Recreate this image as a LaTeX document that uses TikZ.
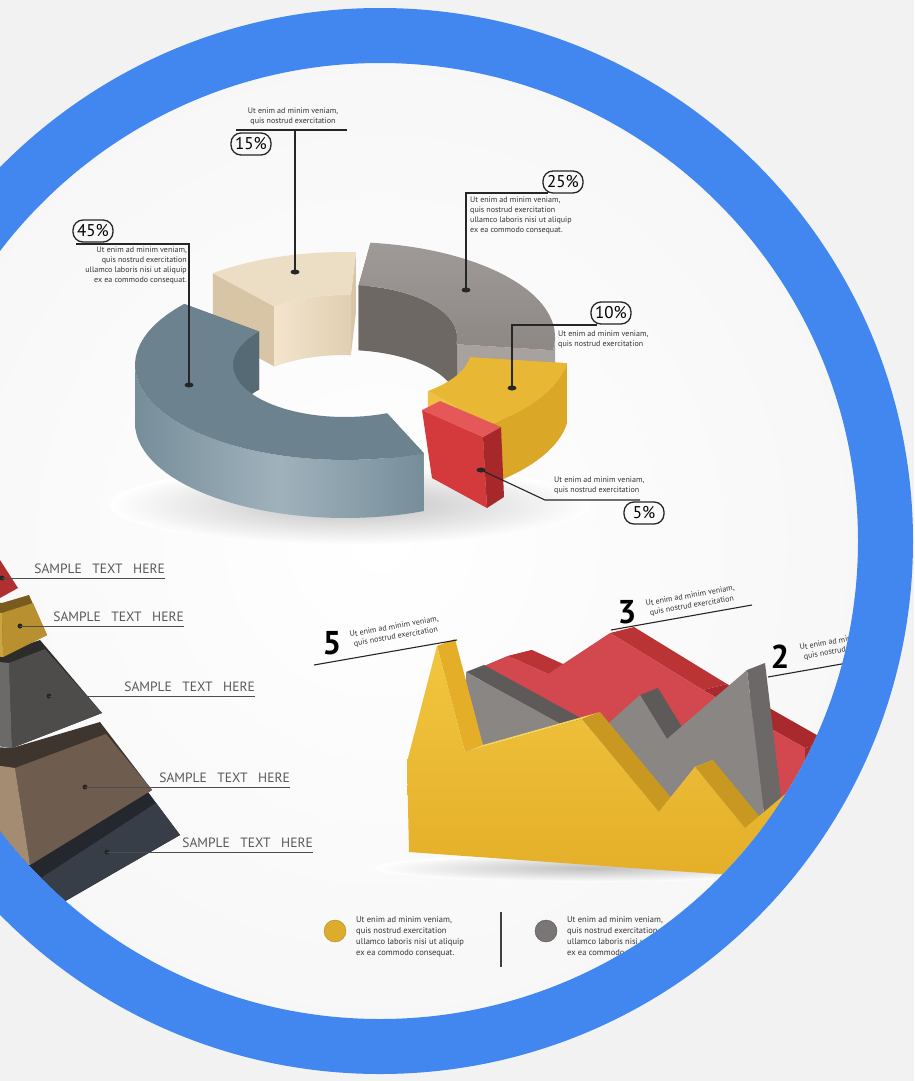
\documentclass[tikz,border=0pt]{standalone}
\usepackage{fontspec}
\setmainfont{PT Sans}
\usepackage{tikz}
\usetikzlibrary{shapes.geometric}

\definecolor{bgout}{RGB}{242,242,242}
\definecolor{ringblue}{RGB}{66,134,240}
\definecolor{sblueTop}{RGB}{108,131,143}
\definecolor{sblueA}{RGB}{118,142,154}
\definecolor{sblueB}{RGB}{160,178,188}
\definecolor{sblueIn}{RGB}{86,106,118}
\definecolor{stanTop}{RGB}{236,221,197}
\definecolor{stanIn}{RGB}{243,228,204}
\definecolor{stanEnd}{RGB}{216,197,166}
\definecolor{sgrayTop}{RGB}{142,136,133}
\definecolor{sgrayIn}{RGB}{110,104,101}
\definecolor{sgrayOut}{RGB}{168,162,159}
\definecolor{syelTop}{RGB}{232,184,52}
\definecolor{syelOut}{RGB}{218,168,38}
\definecolor{syelEnd}{RGB}{238,194,64}
\definecolor{sredL}{RGB}{212,58,60}
\definecolor{sredT}{RGB}{228,88,90}
\definecolor{sredR}{RGB}{166,40,42}
\definecolor{cyel}{RGB}{242,198,64}
\definecolor{cyelB}{RGB}{228,174,40}
\definecolor{cyelL}{RGB}{247,212,92}
\definecolor{cyelD}{RGB}{200,152,32}
\definecolor{cred}{RGB}{210,72,78}
\definecolor{credD}{RGB}{168,42,44}
\definecolor{credM}{RGB}{186,52,54}
\definecolor{cgray}{RGB}{138,134,132}
\definecolor{cgrayD}{RGB}{94,90,89}
\definecolor{cgrayR}{RGB}{108,104,103}
\definecolor{pyred}{RGB}{176,48,48}
\definecolor{pygold}{RGB}{184,144,48}
\definecolor{pygoldL}{RGB}{204,164,62}
\definecolor{pygoldD}{RGB}{120,92,30}
\definecolor{pygray}{RGB}{78,75,75}
\definecolor{pygrayL}{RGB}{108,105,105}
\definecolor{pygrayD}{RGB}{46,43,43}
\definecolor{pybrown}{RGB}{110,93,79}
\definecolor{pybrownL}{RGB}{163,140,114}
\definecolor{pybrownD}{RGB}{62,53,46}
\definecolor{pynavy}{RGB}{56,62,71}
\definecolor{pynavyL}{RGB}{44,48,56}
\definecolor{pynavyD}{RGB}{36,39,45}
\definecolor{legyel}{RGB}{220,172,44}
\definecolor{leggray}{RGB}{122,118,117}

% ring pieces: start, end, cx, cy, (height), style
\newcommand{\segtop}[5]{\path[#5] plot[domain=#1:#2,samples=40] ({#3+210*cos(\x)},{#4-95*sin(\x)}) -- plot[domain=#2:#1,samples=40] ({#3+112*cos(\x)},{#4-52*sin(\x)}) -- cycle;}
\newcommand{\segouter}[6]{\path[#6] plot[domain=#1:#2,samples=40] ({#3+210*cos(\x)},{#4-95*sin(\x)}) -- plot[domain=#2:#1,samples=40] ({#3+210*cos(\x)},{#4+#5-95*sin(\x)}) -- cycle;}
\newcommand{\seginner}[6]{\path[#6] plot[domain=#1:#2,samples=40] ({#3+112*cos(\x)},{#4-52*sin(\x)}) -- plot[domain=#2:#1,samples=40] ({#3+112*cos(\x)},{#4+#5-52*sin(\x)}) -- cycle;}
\newcommand{\segend}[5]{\path[#5] ({#2+112*cos(#1)},{#3-52*sin(#1)}) -- ({#2+210*cos(#1)},{#3-95*sin(#1)}) -- ({#2+210*cos(#1)},{#3+#4-95*sin(#1)}) -- ({#2+112*cos(#1)},{#3+#4-52*sin(#1)}) -- cycle;}

\begin{document}
\begin{tikzpicture}[x=1pt,y=-1pt]
\tikzset{
  pctbox/.style={draw=black!85, line width=1.3pt, rounded corners=10pt, minimum width=40pt, minimum height=22pt, inner sep=1pt, font=\fontsize{17}{17}\selectfont},
  blurb/.style={font=\fontsize{8}{10}\selectfont, text=black!80, inner sep=0pt},
  lead/.style={draw=black!85, line width=1.1pt},
  dotmark/.style={ellipse, fill=black!85, minimum width=9pt, minimum height=5pt, inner sep=0pt},
  sample/.style={font=\fontsize{13.5}{14}\selectfont, text=black!65, inner sep=0pt},
  pyline/.style={draw=black!70, line width=1pt},
  pydot/.style={circle, fill=black!85, minimum size=5pt, inner sep=0pt},
  bignum/.style={font=\bfseries\fontsize{33}{33}\selectfont, inner sep=0pt},
}
\useasboundingbox (0,0) rectangle (914,1081);
\fill[bgout] (0,0) rectangle (914,1081);

\begin{scope}
\clip (380,541) circle (478);
\shade[inner color=white, outer color=black!3] (380,541) circle (478);

%% donut
\shade[inner color=black!25, outer color=white] (350,505) ellipse (240 and 40);
% tan
\segend{87}{345}{347}{60}{fill=stanEnd}
\segend{129}{345}{347}{60}{fill=stanEnd}
\seginner{87}{129}{345}{347}{60}{left color=stanIn, right color=stanEnd!70!stanIn}
\segtop{87}{129}{345}{347}{fill=stanTop}
% gray
\segend{83}{345}{337}{65}{fill=sgrayIn}
\segend{-8}{345}{337}{65}{fill=sgrayOut}
\segouter{-8}{0}{345}{337}{65}{fill=sgrayOut}
\seginner{0}{83}{345}{337}{65}{fill=sgrayIn}
\segtop{-8}{83}{345}{337}{top color=sgrayTop!85!white, bottom color=sgrayTop}
% blue
\segend{140}{345}{365}{58}{fill=sblueIn}
\segend{292}{345}{365}{58}{fill=sblueIn}
\seginner{140}{180}{345}{365}{58}{fill=sblueIn}
\segouter{180}{292}{345}{365}{58}{left color=sblueA, right color=sblueA, middle color=sblueB}
\segtop{140}{292}{345}{365}{fill=sblueTop}
% yellow
\segend{-8}{359}{350}{60}{fill=syelOut}
\segend{-52}{359}{350}{60}{fill=syelEnd}
\segouter{-52}{-8}{359}{350}{60}{fill=syelOut}
\segtop{-52}{-8}{359}{350}{fill=syelTop}
% red
\fill[sredL] (422,410) -- (483,437) -- (487,508) -- (432,478) -- cycle;
\fill[sredR] (483,437) -- (501,427) -- (504,497) -- (487,508) -- cycle;
\fill[sredT] (422,410) -- (440,401) -- (501,427) -- (483,437) -- cycle;

%% donut callouts
\node[pctbox] (p15) at (251,144) {15\%};
\node[blurb, align=center] (t15) at (293,116) {Ut enim ad minim veniam,\\quis nostrud exercitation};
\coordinate (k15a) at (236,130);
\coordinate (k15b) at (347,130);
\coordinate (k15c) at (295,130);
\node[dotmark] (d15) at (295,272) {};
\draw[lead] (k15a) -- (k15b);
\draw[lead] (k15c) -- (d15.center);

\node[pctbox] (p45) at (93,231) {45\%};
\node[blurb, align=right, anchor=north east] (t45) at (187,247) {Ut enim ad minim veniam,\\quis nostrud exercitation\\ullamco laboris nisi ut aliquip\\ex ea commodo consequat.};
\coordinate (k45a) at (76,244);
\coordinate (k45b) at (189,244);
\node[dotmark] (d45) at (189,385) {};
\draw[lead] (k45a) -- (k45b) -- (d45.center);

\node[pctbox] (p25) at (563,182) {25\%};
\node[blurb, align=left, anchor=north west] (t25) at (470,197) {Ut enim ad minim veniam,\\quis nostrud exercitation\\ullamco laboris nisi ut aliquip\\ex ea commodo consequat.};
\coordinate (k25a) at (548,193);
\coordinate (k25b) at (466,193);
\node[dotmark] (d25) at (466,290) {};
\draw[lead] (k25a) -- (k25b) -- (d25.center);

\node[pctbox] (p10) at (611,313) {10\%};
\node[blurb, align=left, anchor=north west] (t10) at (558,331) {Ut enim ad minim veniam,\\quis nostrud exercitation};
\coordinate (k10a) at (597,325);
\coordinate (k10b) at (512,325);
\node[dotmark] (d10) at (512,388) {};
\draw[lead] (k10a) -- (k10b) -- (d10.center);

\node[pctbox] (p5) at (644,513) {5\%};
\node[blurb, align=left, anchor=north west] (t5) at (554,477) {Ut enim ad minim veniam,\\quis nostrud exercitation};
\node[dotmark] (d5) at (481,470) {};
\coordinate (k5a) at (545,500);
\coordinate (k5b) at (640,500);
\draw[lead] (d5.center) -- (k5a) -- (k5b);

%% pyramid
\fill[pynavyD] (145,788) -- (180,835) -- (50,910) -- (-40,910) -- (-40,858) -- (30,858) -- cycle;
\fill[pynavy] (156,803) -- (180,835) -- (52,908) -- (38,880) -- cycle;
\fill[pynavyL] (38,880) -- (52,908) -- (-40,912) -- (-40,875) -- cycle;
\fill[pybrownD] (100,722) -- (152,790) -- (30,865) -- (-40,855) -- (-40,745) -- (12,748) -- cycle;
\fill[pybrown] (106,734) -- (152,790) -- (30,865) -- (15,768) -- cycle;
\fill[pybrownL] (15,768) -- (30,865) -- (-40,855) -- (-40,760) -- cycle;
\fill[pygrayD] (40,640) -- (102,713) -- (12,748) -- (-40,740) -- (-40,650) -- (8,651) -- cycle;
\fill[pygray] (45,649) -- (102,713) -- (12,748) -- (9,663) -- cycle;
\fill[pygrayL] (9,663) -- (12,748) -- (-40,740) -- (-40,658) -- cycle;
\fill[pygoldD] (29,595) -- (47,635) -- (3,657) -- (-40,652) -- (-40,600) -- (2,603) -- cycle;
\fill[pygold] (33,603) -- (47,635) -- (3,657) -- (2,613) -- cycle;
\fill[pygoldL] (2,613) -- (3,657) -- (-40,652) -- (-40,610) -- cycle;
\fill[pyred] (-40,540) -- (0,560) -- (18,588) -- (0,598) -- (-40,598) -- cycle;

\node[pydot] (q1) at (2,578) {};
\node[pydot] (q2) at (20,626) {};
\node[pydot] (q3) at (49,696) {};
\node[pydot] (q4) at (85,787) {};
\node[pydot] (q5) at (107,852) {};
\coordinate (e1) at (165,578);
\coordinate (e2) at (184,626);
\coordinate (e3) at (255,696);
\coordinate (e4) at (290,787);
\coordinate (e5) at (313,852);
\draw[pyline] (q1.center) -- (e1);
\draw[pyline] (q2.center) -- (e2);
\draw[pyline] (q3.center) -- (e3);
\draw[pyline] (q4.center) -- (e4);
\draw[pyline] (q5.center) -- (e5);
\node[sample, anchor=south east] (s1) at (165,574) {SAMPLE\hspace{7pt} TEXT\hspace{7pt} HERE};
\node[sample, anchor=south east] (s2) at (184,622) {SAMPLE\hspace{7pt} TEXT\hspace{7pt} HERE};
\node[sample, anchor=south east] (s3) at (255,692) {SAMPLE\hspace{7pt} TEXT\hspace{7pt} HERE};
\node[sample, anchor=south east] (s4) at (290,783) {SAMPLE\hspace{7pt} TEXT\hspace{7pt} HERE};
\node[sample, anchor=south east] (s5) at (313,848) {SAMPLE\hspace{7pt} TEXT\hspace{7pt} HERE};

%% 3d line chart
\shade[inner color=black!25, outer color=white] (590,868) ellipse (215 and 14);
% red
\fill[credD] (482,667) -- (506,661) -- (532,650) -- (508,656) -- cycle;
\fill[credM] (508,656) -- (532,650) -- (572,668) -- (548,674) -- cycle;
\fill[credM] (610,633) -- (634,627) -- (727,684) -- (703,690) -- cycle;
\fill[credD] (703,690) -- (727,684) -- (829,742) -- (805,748) -- cycle;
\fill[credD] (805,748) -- (829,742) -- (829,810) -- (805,810) -- cycle;
\fill[cred] (482,800) -- (482,667) -- (508,656) -- (548,674) -- (610,633) -- (703,690) -- (805,748) -- (805,810) -- cycle;
% gray
\fill[cgrayD] (466,672) -- (484,665) -- (608,733) -- (590,740) -- cycle;
\fill[cgrayD] (640,695) -- (658,688) -- (685,732) -- (667,739) -- cycle;
\fill[cgrayR] (747,670) -- (765,663) -- (784,823) -- (766,830) -- cycle;
\fill[cgray] (466,820) -- (466,672) -- (590,740) -- (640,695) -- (667,739) -- (747,670) -- (766,830) -- cycle;
% yellow
\fill[cyelB] (437,646) -- (455,639) -- (483,745) -- (465,752) -- cycle;
\fill[cyelL] (465,752) -- (483,745) -- (600,712) -- (582,719) -- cycle;
\fill[cyelD] (582,719) -- (600,712) -- (677,805) -- (659,812) -- cycle;
\fill[cyelL] (659,812) -- (677,805) -- (713,760) -- (695,767) -- cycle;
\fill[cyelD] (695,767) -- (713,760) -- (763,821) -- (745,828) -- cycle;
\shade[top color=cyel, bottom color=cyelB] (409,852) -- (407,762) -- (437,646) -- (465,752) -- (582,719) -- (659,812) -- (695,767) -- (745,828) -- (790,790) -- (805,880) -- (660,870) -- cycle;

\node[bignum] (n5) at (332,643) {5};
\node[blurb, rotate=10, align=center] (c5) at (395,632) {Ut enim ad minim veniam,\\quis nostrud exercitation};
\coordinate (u5a) at (314,665);
\coordinate (u5b) at (457,640);
\draw[lead] (u5a) -- (u5b);
\node[bignum] (n3) at (627,612) {3};
\node[blurb, rotate=10, align=center] (c3) at (691,601) {Ut enim ad minim veniam,\\quis nostrud exercitation};
\coordinate (u3a) at (611,630);
\coordinate (u3b) at (752,605);
\draw[lead] (u3a) -- (u3b);
\node[bignum] (n2) at (780,657) {2};
\node[blurb, rotate=10, align=center] (c2) at (845,645) {Ut enim ad minim veniam,\\quis nostrud exercitation};
\coordinate (u2a) at (768,677);
\coordinate (u2b) at (870,659);
\draw[lead] (u2a) -- (u2b);

%% legend
\node[circle, fill=legyel, draw=legyel!80!black, minimum size=22pt, inner sep=0pt] (g1) at (335,931) {};
\node[blurb, align=left, anchor=north west, font=\fontsize{8.5}{11}\selectfont] (h1) at (356,916) {Ut enim ad minim veniam,\\quis nostrud exercitation\\ullamco laboris nisi ut aliquip\\ex ea commodo consequat.};
\coordinate (w1) at (501,912);
\coordinate (w2) at (501,967);
\draw[black!75, line width=1.2pt] (w1) -- (w2);
\node[circle, fill=leggray, draw=leggray!70!black, minimum size=22pt, inner sep=0pt] (g2) at (546,931) {};
\node[blurb, align=left, anchor=north west, font=\fontsize{8.5}{11}\selectfont] (h2) at (567,916) {Ut enim ad minim veniam,\\quis nostrud exercitation\\ullamco laboris nisi ut aliquip\\ex ea commodo consequat.};
\end{scope}

% blue ring
\fill[ringblue, even odd rule] (380,541) circle (533) (380,541) circle (478);
\end{tikzpicture}
\end{document}
